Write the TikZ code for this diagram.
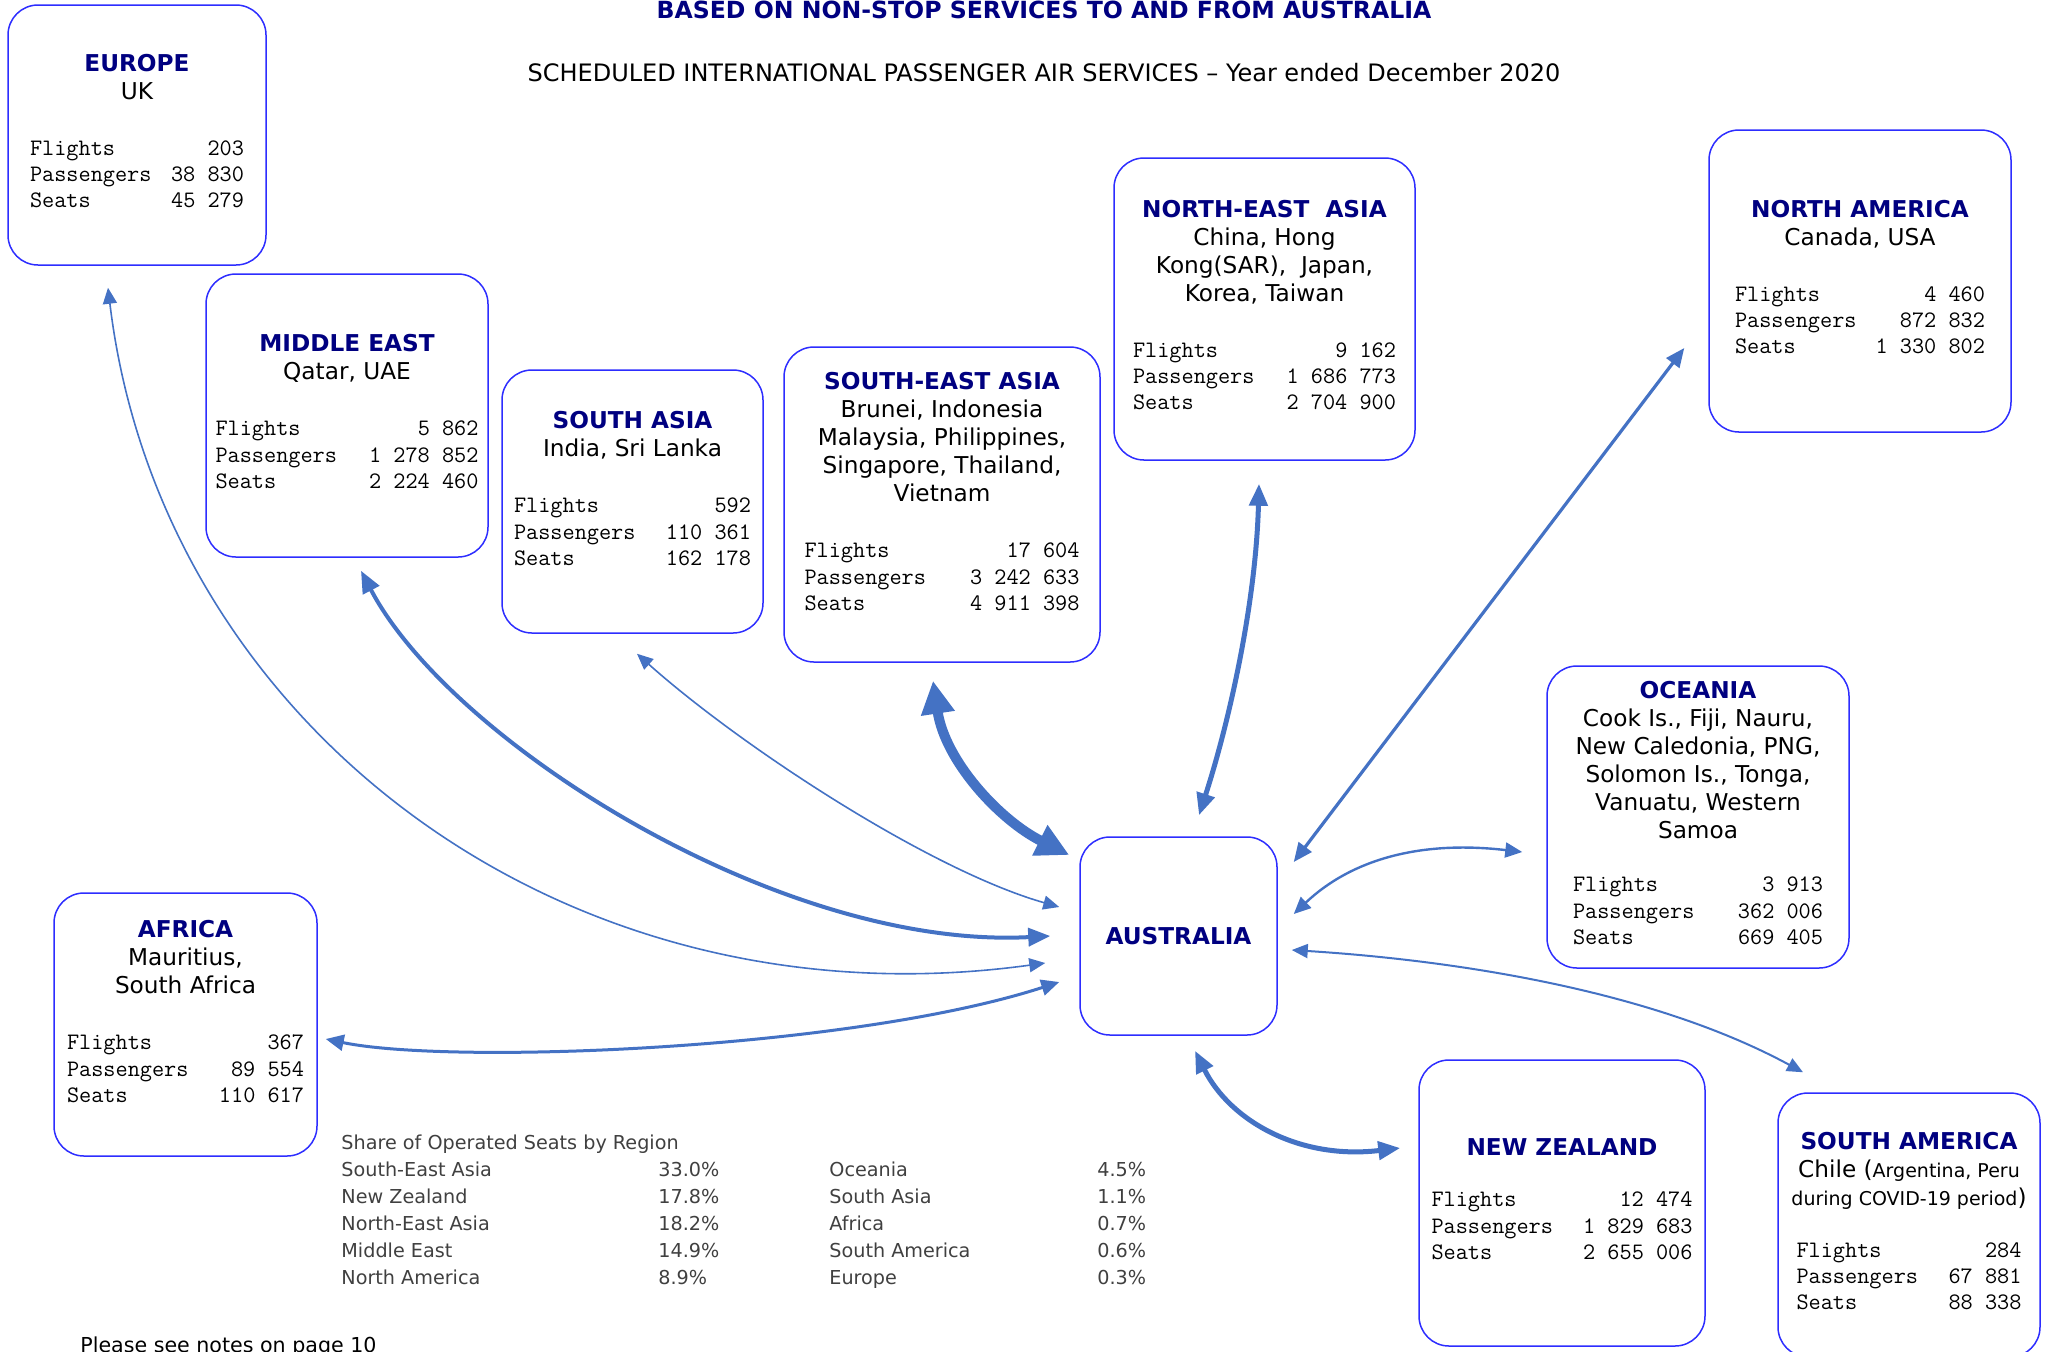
\documentclass[tikz,border=0pt]{standalone}
\usepackage{fontspec}
\setmainfont{DejaVu Sans}
\usetikzlibrary{arrows.meta}

\definecolor{arrowblue}{RGB}{68,114,196}
\definecolor{boxblue}{RGB}{45,45,255}
\definecolor{headnavy}{RGB}{0,0,128}
\definecolor{sharegrey}{RGB}{64,64,64}

\newcommand\regname[1]{{\bfseries\color{headnavy}#1}}
% [extra depth]{table width in px}{flights}{passengers}{seats}
\newcommand\stats[5][0pt]{{\ttfamily\fontsize{11.8}{13.1}\selectfont
  \begin{tabular*}{\dimexpr #2pt/2\relax}[t]{@{}l@{\extracolsep{\fill}}r@{}}
    Flights & #3\\
    Passengers & #4\\
    Seats & #5\rule[-#1]{0pt}{0pt}
  \end{tabular*}}}

\begin{document}
\begin{tikzpicture}[x=0.5pt,y=-0.5pt,
    regbox/.style 2 args={draw=boxblue, line width=0.75pt, rounded corners=15pt,
      align=center, inner sep=0pt, minimum width=#1*0.5pt, minimum height=#2*0.5pt,
      font=\fontsize{11.6}{14}\selectfont},
    link/.style n args={3}{draw=arrowblue, line width=#1,
      {Triangle[length=#2,width=#3]}-{Triangle[length=#2,width=#3]}}]
  \useasboundingbox (0,0) rectangle (2046,1351);
  \clip (0,0) rectangle (2046,1351);

  % headings
  \node [anchor=base, font=\fontsize{11.8}{14}\selectfont\bfseries, text=headnavy] (title) at (1044,18)
    {BASED ON NON-STOP SERVICES TO AND FROM AUSTRALIA};
  \node [anchor=base, font=\fontsize{12}{14}\selectfont] (subtitle) at (1044,81)
    {SCHEDULED INTERNATIONAL PASSENGER AIR SERVICES – Year ended December 2020};

  % regions
  \node [regbox={258}{260}] (eu) at (137,135)
    {\regname{EUROPE}\\UK\\[14pt]\stats{214}{203}{38 830}{45 279}};
  \node [regbox={282}{283}] (me) at (347,415.5)
    {\regname{MIDDLE EAST}\\Qatar, UAE\\[14pt]\stats{263}{5 862}{1 278 852}{2 224 460}};
  \node [regbox={261}{263}] (sa) at (632.5,501.5)
    {\regname{SOUTH ASIA}\\India, Sri Lanka\\[14pt]\stats[13pt]{237}{592}{110 361}{162 178}};
  \node [regbox={316}{315}] (sea) at (942,504.5)
    {\regname{SOUTH-EAST ASIA}\\Brunei, Indonesia\\Malaysia, Philippines,\\Singapore, Thailand,\\Vietnam\\[14pt]\stats[13pt]{275}{17 604}{3 242 633}{4 911 398}};
  \node [regbox={301}{302}] (nea) at (1264.5,309)
    {\regname{NORTH-EAST\ \ ASIA}\\China, Hong\\Kong(SAR),\ \ Japan,\\Korea, Taiwan\\[14pt]\stats{263}{9 162}{1 686 773}{2 704 900}};
  \node [regbox={302}{302}] (na) at (1860,281)
    {\regname{NORTH AMERICA}\\Canada, USA\\[14pt]\stats{250}{4 460}{872 832}{1 330 802}};
  \node [regbox={302}{302}] (oc) at (1698,817)
    {\regname{OCEANIA}\\Cook Is., Fiji, Nauru,\\New Caledonia, PNG,\\Solomon Is., Tonga,\\Vanuatu, Western\\Samoa\\[12.5pt]\stats{250}{3 913}{362 006}{669 405}};
  \node [regbox={197}{198}] (aus) at (1178.5,936) {\regname{AUSTRALIA}};
  \node [regbox={286}{286}] (nz) at (1562,1203)
    {\regname{NEW ZEALAND}\\[11.5pt]\stats{261}{12 474}{1 829 683}{2 655 006}};
  \node [regbox={262}{264}] (sam) at (1909,1225)
    {\regname{SOUTH AMERICA}\\Chile ({\fontsize{9.5}{14}\selectfont Argentina, Peru}\\{\fontsize{9.5}{14}\selectfont during COVID-19 period})\\[12pt]\stats{225}{284}{67 881}{88 338}};
  \node [regbox={263}{263}] (af) at (185.5,1024.5)
    {\regname{AFRICA}\\Mauritius,\\South Africa\\[14pt]\stats[13pt]{237}{367}{89 554}{110 617}};

  % routes to and from Australia
  \draw [link={0.8pt}{8pt}{7pt}] ([shift={(-29,22)}]eu.south)
    .. controls +(52,433) and +(-486,67) .. ([shift={(-34,27)}]aus.west);
  \draw [link={2pt}{11pt}{9pt}] ([shift={(14,13)}]me.south)
    .. controls +(89,170) and +(-271,14) .. ([shift={(-29,0)}]aus.west);
  \draw [link={0.8pt}{8pt}{7pt}] ([shift={(4.5,20)}]sa.south)
    .. controls +(103,92) and +(-130,-37) .. ([shift={(-20,-29)}]aus.west);
  \draw [link={5pt}{16.5pt}{16pt}] ([shift={(-9,18)}]sea.south)
    .. controls +(12,80) and +(-70,-35) .. ([shift={(-10,-81)}]aus.west);
  \draw [link={2.5pt}{11pt}{9pt}] ([shift={(-5.5,23)}]nea.south)
    .. controls +(-3,117) and +(31,-96) .. ([shift={(20.5,-21)}]aus.north);
  \draw [link={1.6pt}{9.5pt}{8pt}] ([shift={(-24,67)}]na.west) -- ([shift={(16,-74)}]aus.east);
  \draw [link={1.2pt}{8.5pt}{7.5pt}] ([shift={(16,-22)}]aus.east)
    .. controls +(57,-54) and +(-103,-12) .. ([shift={(-24,35)}]oc.west);
  \draw [link={1pt}{8pt}{7pt}] ([shift={(14,14)}]aus.east)
    .. controls +(159,10) and +(-153,-83) .. ([shift={(-106,-20)}]sam.north);
  \draw [link={2.5pt}{11pt}{9pt}] ([shift={(16.5,15)}]aus.south)
    .. controls +(35,70) and +(-101,12) .. ([shift={(-18,-55)}]nz.west);
  \draw [link={1.5pt}{9pt}{8pt}] ([shift={(8,14.5)}]af.east)
    .. controls +(125,26) and +(-210,68) .. ([shift={(-20,46)}]aus.west);

  % share of seats
  \node [anchor=base west, inner sep=0pt, text=sharegrey, font=\fontsize{9.6}{13.5}\selectfont] (share) at (341,1149)
    {\begin{tabular}[t]{@{}p{158.5pt}@{}p{85.5pt}@{}p{134pt}@{}l@{}}
      \multicolumn{4}{@{}l@{}}{Share of Operated Seats by Region}\\
      South-East Asia & 33.0\% & Oceania & 4.5\%\\
      New Zealand & 17.8\% & South Asia & 1.1\%\\
      North-East Asia & 18.2\% & Africa & 0.7\%\\
      Middle East & 14.9\% & South America & 0.6\%\\
      North America & 8.9\% & Europe & 0.3\%
    \end{tabular}};
  \node [anchor=base west, inner sep=0pt, font=\fontsize{10.3}{12}\selectfont] (note) at (80,1352) {Please see notes on page 10};
\end{tikzpicture}
\end{document}
